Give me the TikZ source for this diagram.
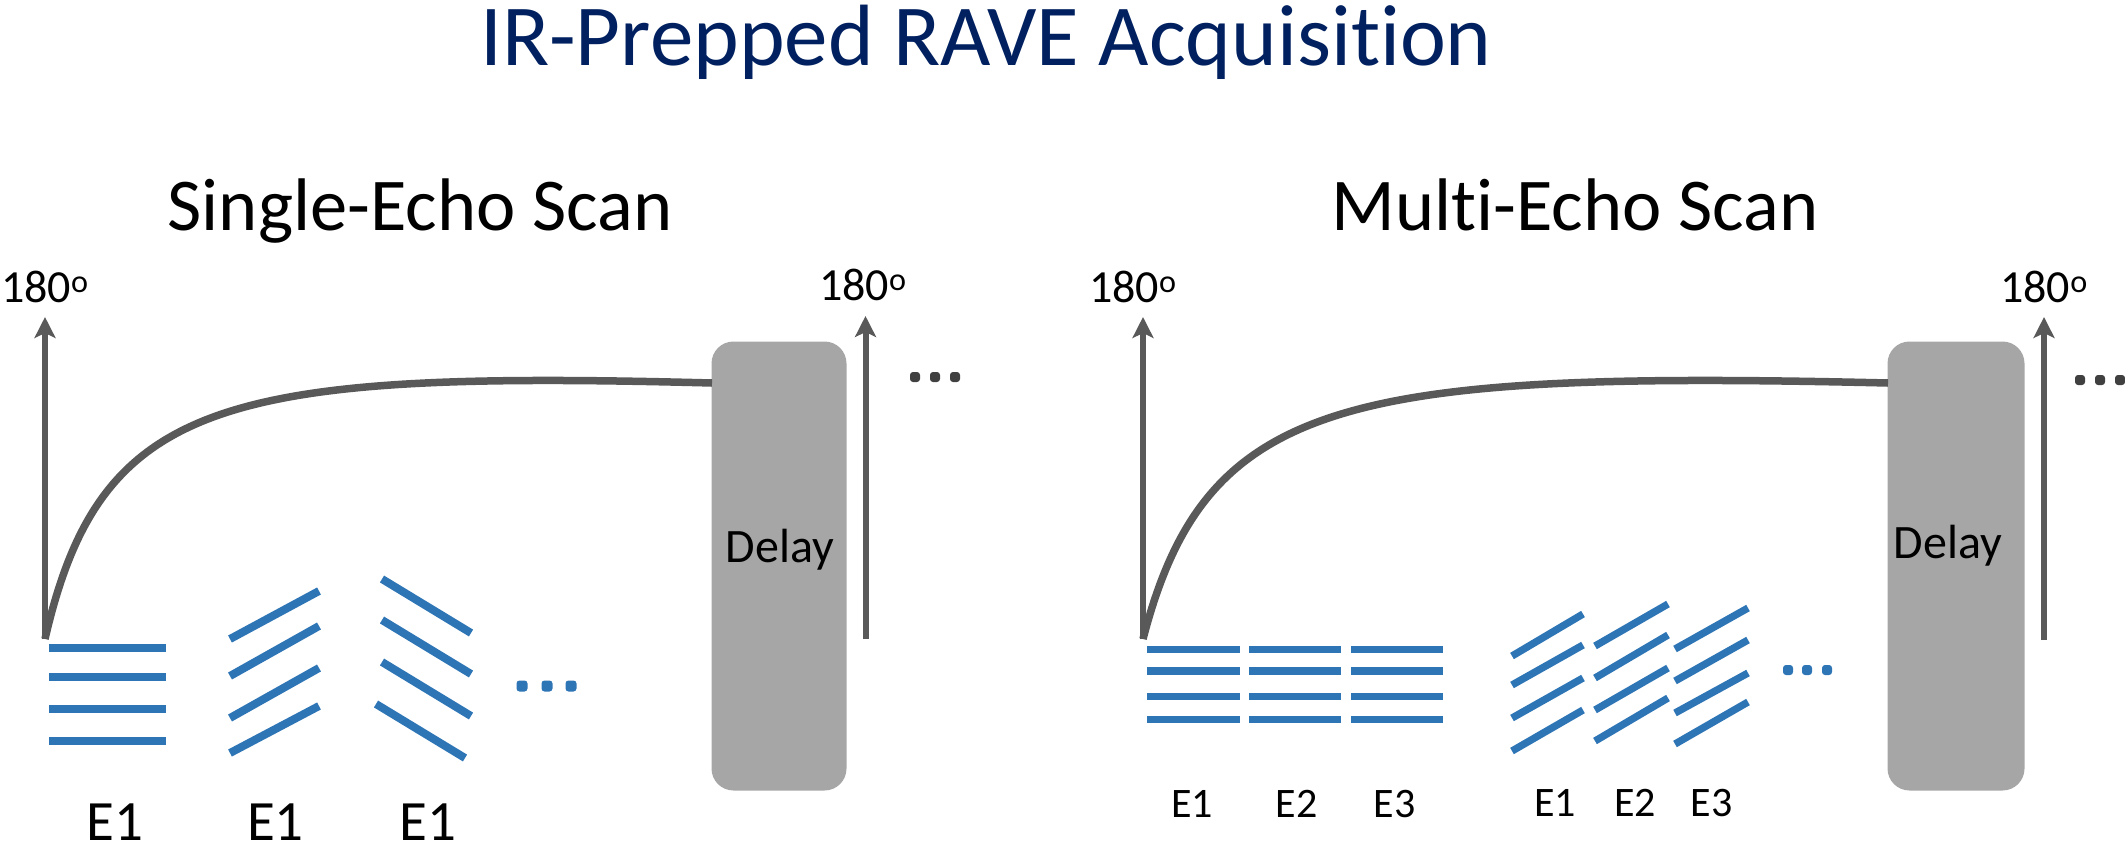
\documentclass[tikz,border=0pt]{standalone}
\usepackage{fontspec}
\setmainfont{Carlito}[Ligatures=NoCommon]
\usetikzlibrary{arrows.meta}
\definecolor{navy}{HTML}{002060}
\definecolor{pulse}{HTML}{595959}
\definecolor{delaygray}{HTML}{A6A6A6}
\definecolor{echoblue}{HTML}{2E75B6}
\definecolor{dotgray}{HTML}{404040}
\begin{document}
\begin{tikzpicture}[x=1pt,y=-1pt,
  pulsearrow/.style={draw=pulse,line width=6pt,-{Stealth[length=21pt,width=21pt,inset=5pt]}},
  recovery/.style={draw=pulse,line width=7.5pt},
  delaybox/.style={fill=delaygray,draw=none,rounded corners=22pt,minimum width=135pt,minimum height=449pt,inner sep=0pt},
  echo/.style={draw=echoblue,line width=8pt},
  echothin/.style={draw=echoblue,line width=7.3pt},
  bluedot/.style={fill=echoblue,rounded corners=3pt},
  graydot/.style={fill=dotgray,rounded corners=3pt},
  lbl/.style={inner sep=0pt,anchor=base,text depth=0pt},
  titlefont/.style={font=\fontsize{87}{98}\selectfont,text=navy,text height=57pt},
  subfont/.style={font=\fontsize{74.5}{84}\selectfont},
  degfont/.style={font=\fontsize{46}{52}\selectfont},
  delayfont/.style={font=\fontsize{48}{54}\selectfont},
  ebig/.style={font=\fontsize{57}{62}\selectfont},
  esmall/.style={font=\fontsize{42}{48}\selectfont},
]
\useasboundingbox (0,0) rectangle (2125,854);

% titles
\node[lbl,titlefont] (title) at (986,65) {IR-Prepped RAVE Acquisition};
\node[lbl,subfont] (single) at (420,230.7) {Single-Echo Scan};
\node[lbl,subfont] (multi) at (1575,230.7) {Multi-Echo Scan};

% ---------------- left panel ----------------
\node[delaybox] (delayL) at (779,566) {};
\node[lbl,delayfont] (delayLt) at (780,562) {Delay};

\coordinate (aL1b) at (45,639);
\coordinate (aL1t) at (45,317);
\coordinate (aL2b) at (865.5,639);
\coordinate (aL2t) at (865.5,316);
\draw[pulsearrow] (aL1b) -- (aL1t);
\draw[pulsearrow] (aL2b) -- (aL2t);
\node[lbl,degfont] (degL1) at (45,302) {180\textsuperscript{o}};
\node[lbl,degfont] (degL2) at (863,300) {180\textsuperscript{o}};

\coordinate (cL) at (712,383);
\draw[recovery] (aL1b) .. controls (100,400) and (220,370) .. (cL);

\foreach \x in {915,935,955} \fill[graydot] (\x-5,372) rectangle (\x+5,382);

% echoes, single
\foreach \y in {648,677,709,741} \draw[echo] (49,\y) -- (166,\y);
\draw[echo] (230,639) -- (319,591);
\draw[echo] (230,676) -- (319,626);
\draw[echo] (230,718) -- (319,668);
\draw[echo] (230,753) -- (319,706);
\draw[echo] (382,579) -- (471,633);
\draw[echo] (382,620) -- (471,674);
\draw[echo] (382,662) -- (471,716);
\draw[echo] (376,704) -- (465,758);
\foreach \x in {522,547,571} \fill[bluedot] (\x-5.5,680.5) rectangle (\x+5.5,691.5);

\node[lbl,ebig] (eL1) at (114.8,840) {E1};
\node[lbl,ebig] (eL2) at (275.5,840) {E1};
\node[lbl,ebig] (eL3) at (427.7,840) {E1};

% ---------------- right panel ----------------
\node[delaybox,minimum width=137pt] (delayR) at (1956,566) {};
\node[lbl,delayfont] (delayRt) at (1948,558) {Delay};

\coordinate (aR1b) at (1143,639);
\coordinate (aR1t) at (1143,317);
\coordinate (aR2b) at (2044,640);
\coordinate (aR2t) at (2044,317);
\draw[pulsearrow] (aR1b) -- (aR1t);
\draw[pulsearrow] (aR2b) -- (aR2t);
\node[lbl,degfont] (degR1) at (1133,302) {180\textsuperscript{o}};
\node[lbl,degfont] (degR2) at (2044,302) {180\textsuperscript{o}};

\coordinate (cR) at (1888,383);
\draw[recovery] (aR1b) .. controls (1205,400) and (1340,370) .. (cR);

\foreach \x in {2080,2100,2120} \fill[graydot] (\x-5,375) rectangle (\x+5,385);

% echoes, multi
\foreach \a/\b in {1147/1240,1249/1341,1351/1443}
  \foreach \y in {649.7,671,696.7,719.3} \draw[echothin] (\a,\y) -- (\b,\y);
\foreach \ya/\yb in {656/614,685/645,718/678,751/710} \draw[echothin] (1512,\ya) -- (1583,\yb);
\foreach \ya/\yb in {646/604,678/635,710/668,741/698} \draw[echothin] (1595,\ya) -- (1668,\yb);
\foreach \ya/\yb in {649/608,681/640,713/673,744/702} \draw[echothin] (1675,\ya) -- (1748,\yb);
\foreach \x in {1788,1807,1827} \fill[bluedot] (\x-5,665) rectangle (\x+5,675);

\node[lbl,esmall] (eR1) at (1192,817.5) {E1};
\node[lbl,esmall] (eR2) at (1296.6,817.5) {E2};
\node[lbl,esmall] (eR3) at (1394.6,817.5) {E3};
\node[lbl,esmall] (eR4) at (1555,816) {E1};
\node[lbl,esmall] (eR5) at (1635,816) {E2};
\node[lbl,esmall] (eR6) at (1711.8,816) {E3};
\end{tikzpicture}
\end{document}
